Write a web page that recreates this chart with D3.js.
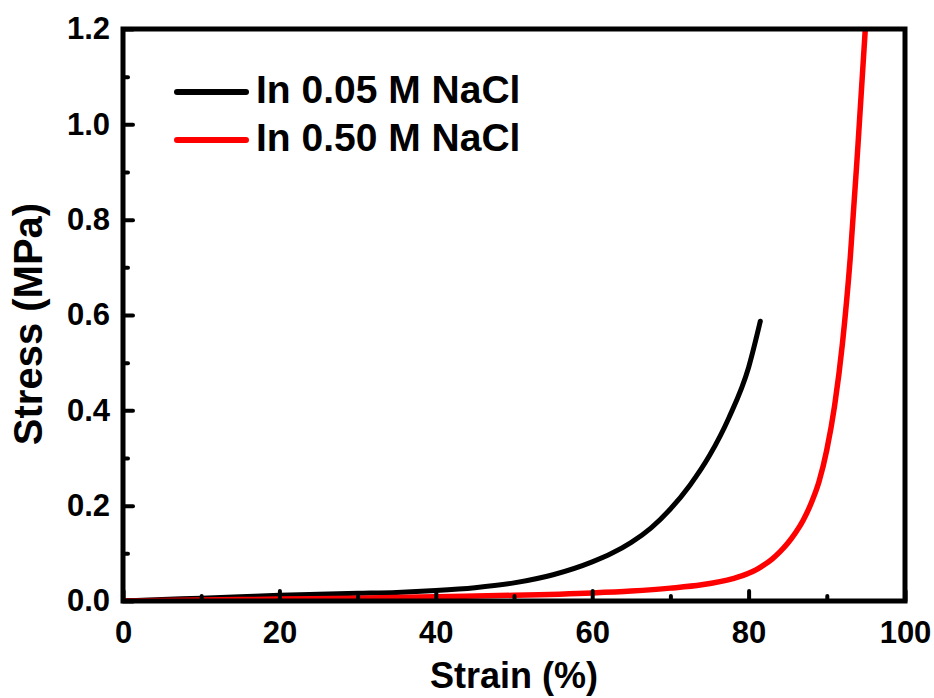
<!DOCTYPE html>
<html>
<head>
<meta charset="utf-8">
<script src="https://cdn.jsdelivr.net/npm/d3@7"></script>
<style>
  html, body { margin: 0; padding: 0; background: #fff; }
  svg { display: block; }
  text { font-family: "Liberation Sans", Arial, sans-serif; font-weight: bold; fill: #000; }
</style>
</head>
<body>
<svg id="chart" width="934" height="698"></svg>
<script>
// ---- data ----
const seriesNames = ["In 0.05 M NaCl", "In 0.50 M NaCl"];
const seriesColors = ["#000000", "#ff0000"];

const strain005 = [0, 5, 10, 15, 20, 25, 30, 35, 40, 45, 50, 55, 60, 62.5, 65, 67.5, 70, 72.5, 75, 77.5, 80, 81.5];
const stress005 = [0, 0.003, 0.006, 0.009, 0.012, 0.014, 0.016, 0.018, 0.022, 0.028, 0.038, 0.055, 0.082, 0.1, 0.123, 0.153, 0.193, 0.243, 0.305, 0.385, 0.49, 0.587];

const strain050 = [0, 10, 20, 30, 40, 50, 60, 65, 70, 74, 78, 80, 81, 82, 83, 84, 85, 86, 87, 88, 89, 90, 91, 92, 93, 94, 95];
const stress050 = [0, 0.002, 0.004, 0.006, 0.009, 0.012, 0.017, 0.021, 0.027, 0.034, 0.047, 0.058, 0.066, 0.076, 0.088, 0.103, 0.121, 0.143, 0.17, 0.205, 0.25, 0.317, 0.41, 0.54, 0.72, 0.96, 1.22];

const xTicks = [0, 20, 40, 60, 80, 100];
const xMinorTicks = [10, 30, 50, 70, 90];
const yTicks = [0, 0.2, 0.4, 0.6, 0.8, 1.0, 1.2];
const yMinorTicks = [0.1, 0.3, 0.5, 0.7, 0.9, 1.1];
const xTitle = "Strain (%)";
const yTitle = "Stress (MPa)";

// ---- layout ----
const svg = d3.select("#chart");
const L = 123, R = 905, T = 29, B = 601;
const x = d3.scaleLinear().domain([0, 100]).range([L, R]);
const y = d3.scaleLinear().domain([0, 1.2]).range([B, T]);

svg.append("rect").attr("width", 934).attr("height", 698).attr("fill", "#fff");

svg.append("defs").append("clipPath").attr("id", "plotclip")
  .append("rect").attr("x", L).attr("y", T).attr("width", R - L).attr("height", B - T);

// curves
const line = d3.line().x(d => x(d[0])).y(d => y(d[1])).curve(d3.curveMonotoneX);
const series = [
  d3.zip(strain005, stress005),
  d3.zip(strain050, stress050)
];
const plot = svg.append("g").attr("clip-path", "url(#plotclip)");
series.forEach((s, i) => {
  plot.append("path")
    .attr("d", line(s))
    .attr("fill", "none")
    .attr("stroke", seriesColors[i])
    .attr("stroke-width", i === 0 ? 5 : 5.5)
    .attr("stroke-linecap", "round")
    .attr("stroke-linejoin", "round");
});

// axes (ticks inward)
function styleAxis(g) {
  g.select(".domain").remove();
  g.selectAll(".tick line").attr("stroke", "#000").attr("stroke-width", 4).attr("stroke-linecap", "round");
  g.selectAll(".tick text").style("font-size", "31px").style("font-family", "'Liberation Sans', Arial, sans-serif").style("font-weight", "bold");
}

const xAxis = svg.append("g").attr("transform", `translate(0,${B})`)
  .call(d3.axisBottom(x).tickValues(xTicks).tickFormat(d3.format("d")).tickSizeInner(-10).tickSizeOuter(0).tickPadding(20));
styleAxis(xAxis);
xAxis.selectAll(".tick text").attr("dy", "0.71em").attr("y", 20);

const xMinor = svg.append("g").attr("transform", `translate(0,${B})`)
  .call(d3.axisBottom(x).tickValues(xMinorTicks).tickFormat("").tickSizeInner(-5).tickSizeOuter(0));
styleAxis(xMinor);

const yAxis = svg.append("g").attr("transform", `translate(${L},0)`)
  .call(d3.axisLeft(y).tickValues(yTicks).tickFormat(d3.format(".1f")).tickSizeInner(-10).tickSizeOuter(0).tickPadding(13));
styleAxis(yAxis);
yAxis.selectAll(".tick text").attr("x", -13);

const yMinor = svg.append("g").attr("transform", `translate(${L},0)`)
  .call(d3.axisLeft(y).tickValues(yMinorTicks).tickFormat("").tickSizeInner(-5).tickSizeOuter(0));
styleAxis(yMinor);

// frame
svg.append("rect").attr("x", L).attr("y", T).attr("width", R - L).attr("height", B - T)
  .attr("fill", "none").attr("stroke", "#000").attr("stroke-width", 5);

// axis titles
svg.append("text").attr("x", (L + R) / 2).attr("y", 688).attr("text-anchor", "middle")
  .style("font-size", "36px").text(xTitle);
svg.append("text").attr("transform", `translate(42,${(T + B) / 2 + 9}) rotate(-90)`).attr("text-anchor", "middle")
  .style("font-size", "40px").text(yTitle);

// legend
const legY = [92, 140];
seriesNames.forEach((name, i) => {
  svg.append("line").attr("x1", 177).attr("x2", 246).attr("y1", legY[i]).attr("y2", legY[i])
    .attr("stroke", seriesColors[i]).attr("stroke-width", 6).attr("stroke-linecap", "round");
  svg.append("text").attr("x", 256).attr("y", legY[i] + 10.5).style("font-size", "39px").text(name);
});
</script>
</body>
</html>
